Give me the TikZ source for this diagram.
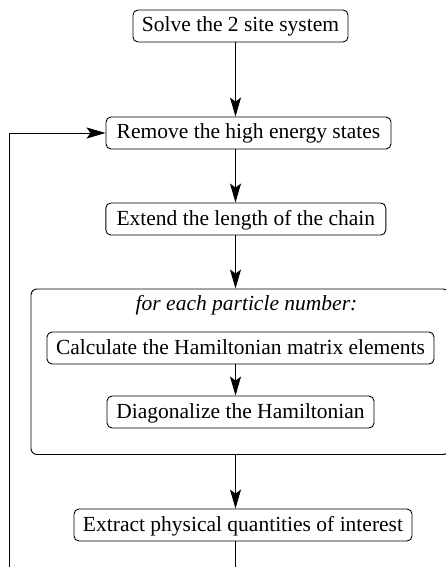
\documentclass[tikz,border=0pt]{standalone}
\usepackage{fontspec}
\setmainfont{Liberation Serif}
\usetikzlibrary{arrows.meta}
\tikzset{
  stepbox/.style={draw, rounded corners=5pt, line width=0.9pt, inner xsep=9pt, inner ysep=0pt,
    minimum height=32pt, text height=16pt, text depth=4pt,
    font=\fontsize{21.5pt}{25pt}\selectfont},
  framebox/.style={draw, rounded corners=6pt, line width=0.9pt, inner sep=0pt},
  flow/.style={line width=0.9pt, -{Stealth[length=19pt,width=11pt,inset=4pt]}},
  plain/.style={line width=0.9pt}
}
\begin{document}
\begin{tikzpicture}[x=1pt,y=-1pt]
\useasboundingbox (0,0) rectangle (446,567);
\clip (0,0) rectangle (446,567);
\coordinate (col) at (235.5,0);
\coordinate (bl) at (9.5,590);

\node[stepbox, minimum width=215pt] (solve) at (240.5,26) {Solve the 2 site system};
\node[stepbox, minimum width=285pt] (remove) at (248.5,133) {Remove the high energy states};
\node[stepbox, minimum width=280pt] (extend) at (245.8,219) {Extend the length of the chain};
\node[framebox, minimum width=418pt, minimum height=165.5pt] (frame) at (240,371.75) {};
\node[inner sep=0pt, text height=16pt, text depth=4pt, font=\fontsize{21.5pt}{25pt}\selectfont\itshape] (label) at (246.5,304) {for each particle number:};
\node[stepbox, minimum width=387pt] (calc) at (240.5,348) {Calculate the Hamiltonian matrix elements};
\node[stepbox, minimum width=267pt] (diag) at (240.5,412) {Diagonalize the Hamiltonian};
\node[stepbox, minimum width=338pt] (extract) at (243,525) {Extract physical quantities of interest};

\draw[flow] (solve.south -| col) -- (remove.north -| col);
\draw[flow] (remove.south -| col) -- (extend.north -| col);
\draw[flow] (extend.south -| col) -- (frame.north -| col);
\draw[flow] (calc.south -| col) -- (diag.north -| col);
\draw[flow] (frame.south -| col) -- (extract.north -| col);
\draw[flow] (extract.south -| col) -- (col |- bl) -- (bl) -- (bl |- remove.west) -- (remove.west);
\end{tikzpicture}
\end{document}
